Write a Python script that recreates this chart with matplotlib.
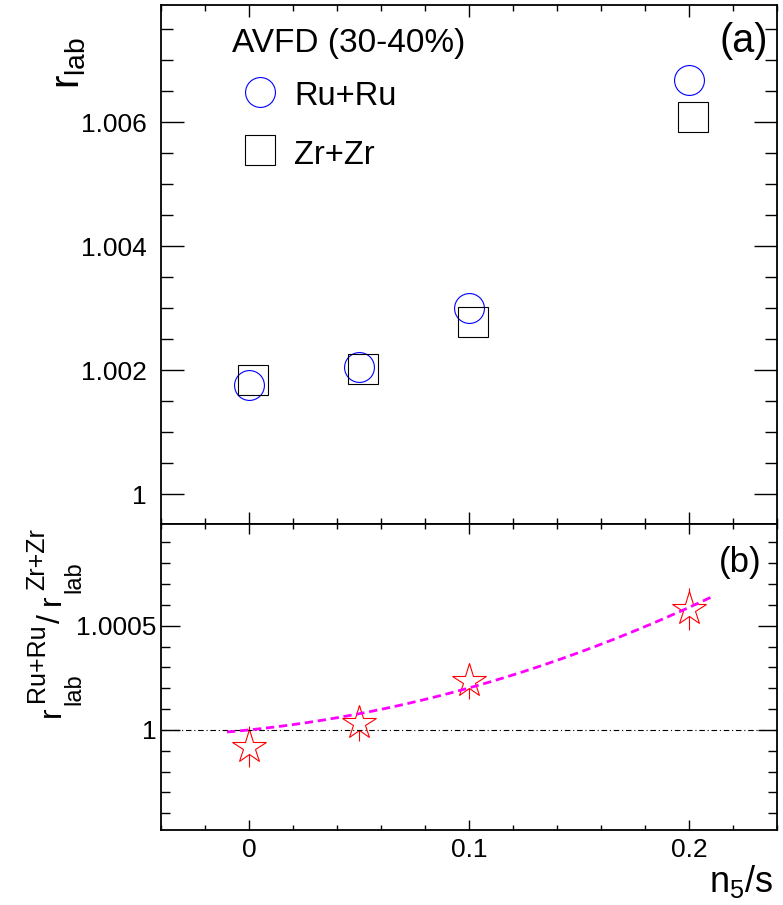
import numpy as np
import matplotlib
matplotlib.use('Agg')
import matplotlib.pyplot as plt
from matplotlib.ticker import FixedLocator, MultipleLocator, FuncFormatter

plt.rcParams['font.family'] = ['Liberation Sans', 'DejaVu Sans']
plt.rcParams['mathtext.fontset'] = 'custom'
plt.rcParams['mathtext.rm'] = 'Liberation Sans'
plt.rcParams['mathtext.it'] = 'Liberation Sans'
plt.rcParams['mathtext.sf'] = 'Liberation Sans'
plt.rcParams['mathtext.bf'] = 'Liberation Sans:bold'

# ---------------- data ----------------
n5s = [0.0, 0.05, 0.10, 0.20]
zr_shift = 0.002
r_ruru = [1.001766, 1.002055, 1.003010, 1.006677]
r_zrzr = [1.001839, 1.002029, 1.002774, 1.006090]
ratio = [0.999920, 1.000034, 1.000234, 1.000580]
ratio_err = [0.00010, 0.000085, 0.000085, 0.00010]
fit_range = [-0.01, 0.21]

xticks = [0.0, 0.1, 0.2]
top_yticks = [1.000, 1.002, 1.004, 1.006]
bot_yticks = [1.0, 1.0005]
xlim = (-0.04, 0.24)
top_ylim = (0.99953, 1.00789)
bot_ylim = (0.99952, 1.00099)

legend_title = 'AVFD (30-40%)'
labels = ['Ru+Ru', 'Zr+Zr']

# ---------------- fit: pol2 constrained through (0, 1) ----------------
x = np.array(n5s)
y = np.array(ratio) - 1.0
w = 1.0 / np.array(ratio_err)
A = np.vstack([x, x ** 2]).T
coef, *_ = np.linalg.lstsq(A * w[:, None], y * w, rcond=None)
xf = np.linspace(fit_range[0], fit_range[1], 300)
yf = 1.0 + coef[0] * xf + coef[1] * xf ** 2

# ---------------- figure ----------------
W, H = 783, 905
fig = plt.figure(figsize=(W / 100, H / 100), dpi=100)
ax1 = fig.add_axes([161 / W, (H - 523.5) / H, 616 / W, 518.5 / H])
ax2 = fig.add_axes([161 / W, (H - 830) / H, 616 / W, 306.5 / H], sharex=ax1)

fmt = FuncFormatter(lambda v, p: '%g' % v)

# top panel
ax1.plot(n5s, r_ruru, ls='none', marker='o', ms=21.5, mfc='none',
         mec='#0000ff', mew=0.8, label=labels[0])
ax1.plot(np.array(n5s) + zr_shift, r_zrzr, ls='none', marker='s', ms=21,
         mfc='none', mec='black', mew=0.8, label=labels[1])
ax1.set_xlim(*xlim)
ax1.set_ylim(*top_ylim)
ax1.yaxis.set_major_locator(FixedLocator(top_yticks))
ax1.yaxis.set_minor_locator(MultipleLocator(0.0005))
ax1.yaxis.set_major_formatter(fmt)
ax1.xaxis.set_major_locator(FixedLocator(xticks))
ax1.xaxis.set_minor_locator(MultipleLocator(0.02))

ax1.text(0.1153, 0.9094, legend_title, transform=ax1.transAxes,
         ha='left', va='baseline', fontsize=24)
leg = ax1.legend(loc='upper left', bbox_to_anchor=(0.1153, 0.8572),
                 fontsize=23.5, frameon=False, handlelength=1.74,
                 handleheight=1.04, handletextpad=0.16,
                 labelspacing=0.77, borderpad=0, borderaxespad=0,
                 numpoints=1)

ax1.text(0.9854, 0.9093, '(a)', transform=ax1.transAxes, ha='right',
         va='baseline', fontsize=28.5)

# bottom panel
ax2.axhline(1.0, color='black', lw=0.8, dashes=(5, 2.5, 1, 2.5), zorder=4)
ax2.errorbar(n5s, ratio, yerr=ratio_err, fmt='none', ecolor='red',
             elinewidth=0.8, capsize=0, zorder=2)
ax2.plot(n5s, ratio, ls='none', marker='*', ms=25.5, mfc='white',
         mec='red', mew=0.8, zorder=3)
ax2.plot(xf, yf, color='#ff00ff', lw=2.0, dashes=(3, 1.7), zorder=5)
ax2.set_ylim(*bot_ylim)
ax2.yaxis.set_major_locator(FixedLocator(bot_yticks))
ax2.yaxis.set_minor_locator(MultipleLocator(0.0001))
ax2.yaxis.set_major_formatter(fmt)
ax2.xaxis.set_major_formatter(fmt)
ax2.text(0.9756, 0.841, '(b)', transform=ax2.transAxes, ha='right',
         va='baseline', fontsize=25)

for ax in (ax1, ax2):
    for s in ax.spines.values():
        s.set_linewidth(1.3)
    ax.tick_params(which='both', direction='in', top=True, right=True,
                   width=1.0, labelsize=19)

ax1.tick_params(axis='y', which='major', length=16.5, pad=10.5)
ax1.tick_params(axis='y', which='minor', length=8.5)
ax1.tick_params(axis='x', which='major', length=8.6, labelbottom=False)
ax1.tick_params(axis='x', which='minor', length=4.3)

ax2.tick_params(axis='y', which='major', length=14, pad=3.5)
ax2.tick_params(axis='y', which='minor', length=6.5)
ax2.tick_params(axis='x', which='major', length=7, pad=5.5)
ax2.tick_params(axis='x', which='minor', length=3.6)

# axis titles
fig.text(50 / W, 1 - 37 / H, r'$r_{lab}$', rotation=90, ha='left',
         va='top', fontsize=29)

# lower y title, composed piece by piece (main symbol, sub- and superscripts)
ylab_pieces = [
    ('r', 60, 717, 23),
    ('lab', 80, 705, 17),
    ('Ru+Ru', 44, 702, 18),
    ('/', 60, 623, 23),
    ('r', 60, 605, 23),
    ('lab', 80, 593, 17),
    ('Zr+Zr', 44, 590, 18),
]
for txt, bx, by, fs in ylab_pieces:
    fig.text(bx / W, 1 - by / H, txt, rotation=90, rotation_mode='anchor',
             ha='left', va='baseline', fontsize=fs)

fig.text(773 / W, 1 - 892 / H, r'$n_5/s$', ha='right', va='baseline',
         fontsize=26)

fig.savefig('out.png', dpi=100)
